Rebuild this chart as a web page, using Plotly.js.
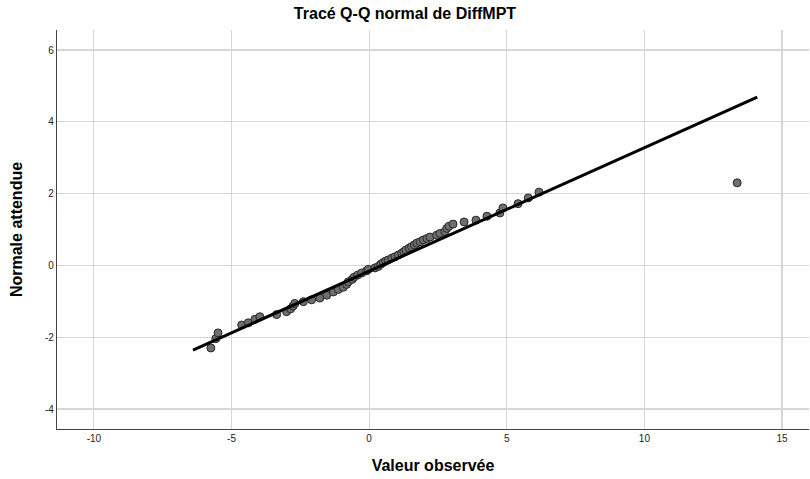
<!DOCTYPE html>
<html>
<head>
<meta charset="utf-8">
<script src="https://cdn.plot.ly/plotly-3.0.1.min.js"></script>
<style>html,body{margin:0;padding:0;background:#fff;}#chart{width:810px;height:479px;}</style>
</head>
<body>
<div id="chart"></div>
<script>
var observed = [-5.75, -5.57, -5.49, -4.63, -4.39, -4.15, -3.97, -3.36, -3.00, -2.85,
  -2.76, -2.70, -2.39, -2.09, -1.79, -1.54, -1.30, -1.12, -0.94, -0.82,
  -0.76, -0.62, -0.55, -0.42, -0.27, -0.09, -0.03, 0.21, 0.33, 0.42,
  0.51, 0.60, 0.69, 0.82, 0.94, 1.06, 1.18, 1.26, 1.34, 1.45,
  1.54, 1.64, 1.73, 1.85, 1.97, 2.10, 2.21, 2.45, 2.57, 2.75,
  2.82, 2.90, 3.05, 3.45, 3.88, 4.28, 4.75, 4.86, 5.41, 5.78,
  6.17, 13.37];
var expected = [-2.30, -2.04, -1.88, -1.66, -1.60, -1.50, -1.43, -1.37, -1.29, -1.21,
  -1.13, -1.06, -1.01, -0.96, -0.91, -0.83, -0.74, -0.67, -0.61, -0.53,
  -0.46, -0.39, -0.33, -0.27, -0.21, -0.15, -0.11, -0.07, -0.03, 0.03,
  0.08, 0.12, 0.15, 0.20, 0.24, 0.29, 0.34, 0.38, 0.43, 0.48,
  0.52, 0.57, 0.62, 0.66, 0.71, 0.75, 0.79, 0.84, 0.89, 0.94,
  1.03, 1.09, 1.15, 1.21, 1.26, 1.37, 1.46, 1.60, 1.72, 1.88,
  2.04, 2.30];
// Reference line endpoints
var lineX = [-6.4, 14.1];
var lineY = [-2.36, 4.69];
var xTicks = [-10, -5, 0, 5, 10, 15];
var yTicks = [-4, -2, 0, 2, 4, 6];

var font = "'Liberation Sans', Arial, sans-serif";
var traces = [
  {
    x: observed, y: expected, type: 'scatter', mode: 'markers',
    marker: {size: 8, color: 'rgb(110,110,110)', line: {color: 'rgb(40,40,40)', width: 1}},
    hoverinfo: 'x+y', showlegend: false
  },
  {
    x: lineX, y: lineY, type: 'scatter', mode: 'lines',
    line: {color: '#000000', width: 3},
    hoverinfo: 'skip', showlegend: false
  }
];
var layout = {
  width: 810, height: 479,
  margin: {l: 57, r: 1, t: 30, b: 50},
  paper_bgcolor: '#ffffff', plot_bgcolor: '#ffffff',
  font: {family: font, size: 10, color: '#000'},
  title: {text: 'Tracé Q-Q normal de DiffMPT', x: 0.5, xref: 'container', y: 0.972, yanchor: 'middle',
          font: {family: font, size: 16, color: '#000', weight: 'bold'}},
  xaxis: {
    range: [-11.34, 15.98], tickvals: xTicks, ticktext: xTicks.map(function(v){return v<0 ? '-' + Math.abs(v) : String(v);}),
    showgrid: true, gridcolor: '#d6d6d6', gridwidth: 1.2, zeroline: false,
    showline: true, linecolor: '#444444', linewidth: 1.2, ticks: '',
    tickfont: {size: 10, color: '#222'},
    title: {text: 'Valeur observée', font: {family: font, size: 16, color: '#000', weight: 'bold'}, standoff: 16}
  },
  yaxis: {
    range: [-4.557, 6.557], tickvals: yTicks, ticktext: yTicks.map(function(v){return v<0 ? '-' + Math.abs(v) : String(v);}),
    showgrid: true, gridcolor: '#d6d6d6', gridwidth: 1.2, zeroline: false,
    showline: true, linecolor: '#444444', linewidth: 1.2, ticks: '',
    tickfont: {size: 10, color: '#222'},
    title: {text: 'Normale attendue', font: {family: font, size: 16, color: '#000', weight: 'bold'}, standoff: 18}
  }
};
Plotly.newPlot('chart', traces, layout, {displayModeBar: false, staticPlot: true});
</script>
</body>
</html>
